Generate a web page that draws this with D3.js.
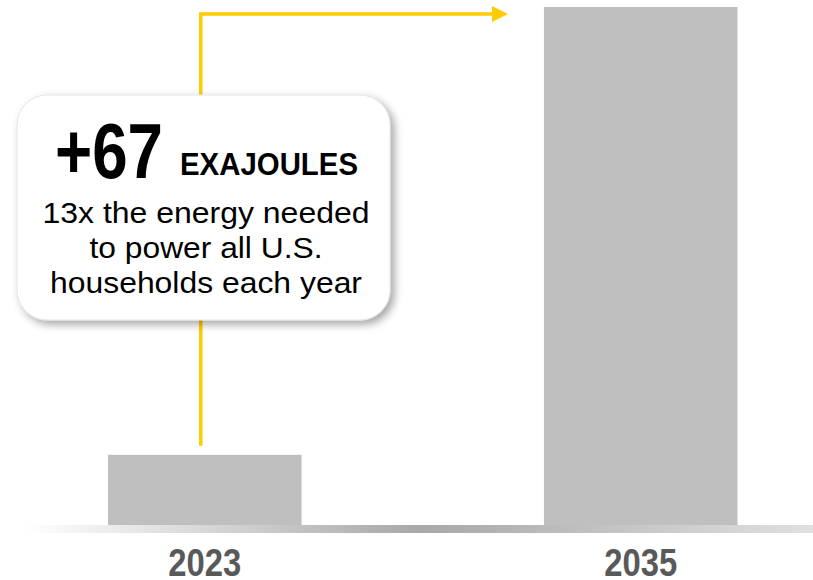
<!DOCTYPE html>
<html><head><meta charset="utf-8">
<script src="https://cdn.jsdelivr.net/npm/d3@7"></script>
<style>body{margin:0;background:#fff}svg{display:block}</style>
</head><body><svg id="c" width="813" height="580"></svg>
<script>
const categories = ["2023", "2035"];
const values = [10.5, 77.5];
const calloutBig = "+67";
const calloutUnit = "EXAJOULES";
const calloutLines = ["13x the energy needed", "to power all U.S.", "households each year"];

const W = 813, H = 580;
const svg = d3.select("#c");
const defs = svg.append("defs");
const FN = "'Liberation Sans',Arial,sans-serif";

const x = d3.scaleBand().domain(categories).range([108, 737.5]).paddingInner(0.556).paddingOuter(0);
const y = d3.scaleLinear().domain([0, 77.5]).range([525, 7]);

// baseline gradient
const g = defs.append("linearGradient").attr("id","base").attr("x1","0").attr("x2","1").attr("y1","0").attr("y2","0");
g.append("stop").attr("offset","0").attr("stop-color","#fff");
g.append("stop").attr("offset","0.5").attr("stop-color","#a8a8a8");
g.append("stop").attr("offset","1").attr("stop-color","#e0e0e0");
svg.append("rect").attr("x",25).attr("y",y(0)).attr("width",W-25).attr("height",8).attr("fill","url(#base)");

// bars
svg.selectAll("rect.bar").data(categories).join("rect").attr("class","bar")
  .attr("x", d => x(d)).attr("width", x.bandwidth())
  .attr("y", (d,i) => y(values[i])).attr("height", (d,i) => y(0) - y(values[i]))
  .attr("fill","#bfbfbf");

// axis labels
const xAxis = d3.axisBottom(x).tickSize(0).tickPadding(0);
const ax = svg.append("g").attr("transform",`translate(0,${y(0)})`).call(xAxis);
ax.select(".domain").remove();
ax.selectAll("text").attr("y",51).attr("dy",0).attr("font-family",FN).attr("font-weight","bold")
  .attr("font-size",38).attr("fill","#595959")
  .attr("textLength",73).attr("lengthAdjust","spacingAndGlyphs");

// arrow
const ax0 = x("2023") + x.bandwidth()/2 - 4;
const yel = "#ffcc00";
svg.append("path").attr("d",`M${ax0},${y(values[0]) - 9} V14 H493`).attr("fill","none")
  .attr("stroke",yel).attr("stroke-width",3.5);
svg.append("path").attr("d",`M492,6 L508,14 L492,22 Z`).attr("fill",yel);

// callout
const f = defs.append("filter").attr("id","sh").attr("x","-10%").attr("y","-10%").attr("width","130%").attr("height","130%");
f.append("feDropShadow").attr("dx",4).attr("dy",4).attr("stdDeviation",4).attr("flood-color","#000").attr("flood-opacity",0.35);
svg.append("rect").attr("x",17).attr("y",95).attr("width",373).attr("height",225).attr("rx",30)
  .attr("fill","#fff").attr("stroke","#e4e4e4").attr("stroke-width",1).attr("filter","url(#sh)");

svg.append("text").attr("x",55).attr("y",178).attr("font-family",FN).attr("font-weight","bold")
  .attr("font-size",77).attr("fill","#000").attr("textLength",108).attr("lengthAdjust","spacingAndGlyphs").text(calloutBig);
svg.append("text").attr("x",180).attr("y",175).attr("font-family",FN).attr("font-weight","bold")
  .attr("font-size",32).attr("fill","#000").attr("textLength",178).attr("lengthAdjust","spacingAndGlyphs").text(calloutUnit);

const lineW = [327, 233, 312];
svg.selectAll("text.line").data(calloutLines).join("text").attr("class","line")
  .attr("x",(d,i) => 206 - lineW[i]/2).attr("y",(d,i) => 223 + i*35)
  .attr("textLength",(d,i) => lineW[i]).attr("lengthAdjust","spacingAndGlyphs")
  .attr("font-family",FN).attr("font-size",30).attr("fill","#000").text(d => d);
</script></body></html>
